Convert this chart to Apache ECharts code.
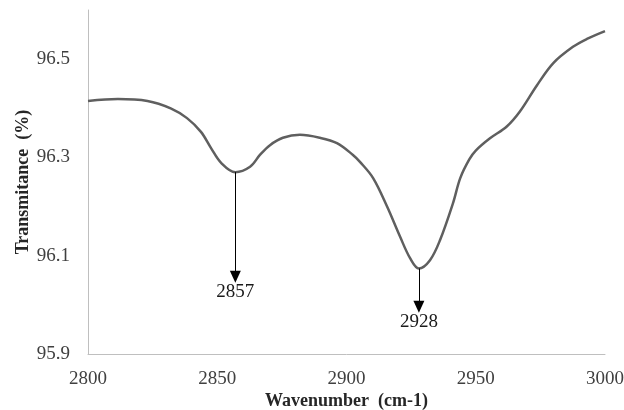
<!DOCTYPE html>
<html>
<head>
<meta charset="utf-8">
<script src="https://cdn.jsdelivr.net/npm/echarts@6/dist/echarts.min.js"></script>
<style>html,body{margin:0;padding:0;background:#fff;}#c{width:624px;height:410px;}</style>
</head>
<body>
<div id="c"></div>
<script>
const wavenumbers = [2800, 2811.6, 2823, 2832, 2838.3, 2843.7, 2847.6, 2851.5, 2857, 2862.7, 2866.5, 2870.4, 2875.4, 2882, 2889.7, 2896.3, 2902.5, 2905.2, 2910.3, 2915.7, 2920.7, 2924.6, 2928, 2932.3, 2936.2, 2941.2, 2944, 2947.5, 2950, 2955.5, 2962, 2967, 2973.7, 2980, 2987.6, 2993, 3000];
const transmittance = [96.415, 96.419, 96.415, 96.400, 96.380, 96.352, 96.319, 96.289, 96.270, 96.281, 96.305, 96.325, 96.340, 96.346, 96.340, 96.329, 96.305, 96.291, 96.258, 96.200, 96.139, 96.095, 96.074, 96.091, 96.132, 96.207, 96.258, 96.296, 96.314, 96.339, 96.363, 96.393, 96.447, 96.492, 96.525, 96.541, 96.557];
const peakWavenumbers = [2857, 2928];
const peakValues = [96.270, 96.074];
const arrowEnds = [96.057, 95.996];
const peakLabels = ['2857', '2928'];
const yTickLabels = ['95.9', '96.1', '96.3', '96.5'];

const chart = echarts.init(document.getElementById('c'), null, {renderer: 'canvas'});
const serif = 'Liberation Serif';
const tickRich = {t: {fontFamily: serif, fontSize: 19, color: '#404040'}};
const markData = peakWavenumbers.map((w, i) => [
  {coord: [w, peakValues[i]], symbol: 'none'},
  {coord: [w, arrowEnds[i]], symbol: 'triangle', label: {formatter: peakLabels[i]}}
]);
chart.setOption({
  animation: false,
  textStyle: {fontFamily: serif},
  grid: {left: 88, right: 19, top: 10, bottom: 56, containLabel: false, outerBoundsMode: 'none'},
  xAxis: {
    type: 'value', min: 2800, max: 3000, interval: 50,
    name: 'Wavenumber  (cm-1)', nameLocation: 'middle', nameGap: 38, nameMoveOverlap: false,
    nameTextStyle: {fontFamily: serif, fontWeight: 'bold', fontSize: 18, color: '#262626'},
    axisLine: {lineStyle: {color: '#bfbfbf', width: 1}},
    axisTick: {show: false},
    splitLine: {show: false},
    axisLabel: {fontFamily: serif, fontSize: 19, color: '#404040', margin: 16, rich: tickRich,
      formatter: v => '{t|' + String(v) + '}'}
  },
  yAxis: {
    type: 'value', min: 95.9, max: 96.6, interval: 0.1,
    name: 'Transmitance  (%)', nameLocation: 'middle', nameGap: 56, nameMoveOverlap: false,
    nameTextStyle: {fontFamily: serif, fontWeight: 'bold', fontSize: 18, color: '#262626'},
    axisLine: {show: true, lineStyle: {color: '#bfbfbf', width: 1}},
    axisTick: {show: false},
    splitLine: {show: false},
    axisLabel: {
      fontFamily: serif, fontSize: 19, color: '#404040', margin: 18, rich: tickRich,
      formatter: v => { const s = v.toFixed(1); return yTickLabels.includes(s) ? '{t|' + s + '}' : ''; }
    }
  },
  series: [{
    type: 'line',
    data: wavenumbers.map((w, i) => [w, transmittance[i]]),
    smooth: 0.35,
    showSymbol: false,
    lineStyle: {color: '#5f5f5f', width: 2.5},
    markLine: {
      silent: true,
      symbol: ['none', 'triangle'],
      symbolSize: [11, 12],
      lineStyle: {color: '#000', width: 1, type: 'solid'},
      label: {show: true, position: 'end', fontFamily: serif, fontSize: 19, color: '#1a1a1a', distance: 6},
      data: markData
    }
  }]
});
</script>
</body>
</html>
